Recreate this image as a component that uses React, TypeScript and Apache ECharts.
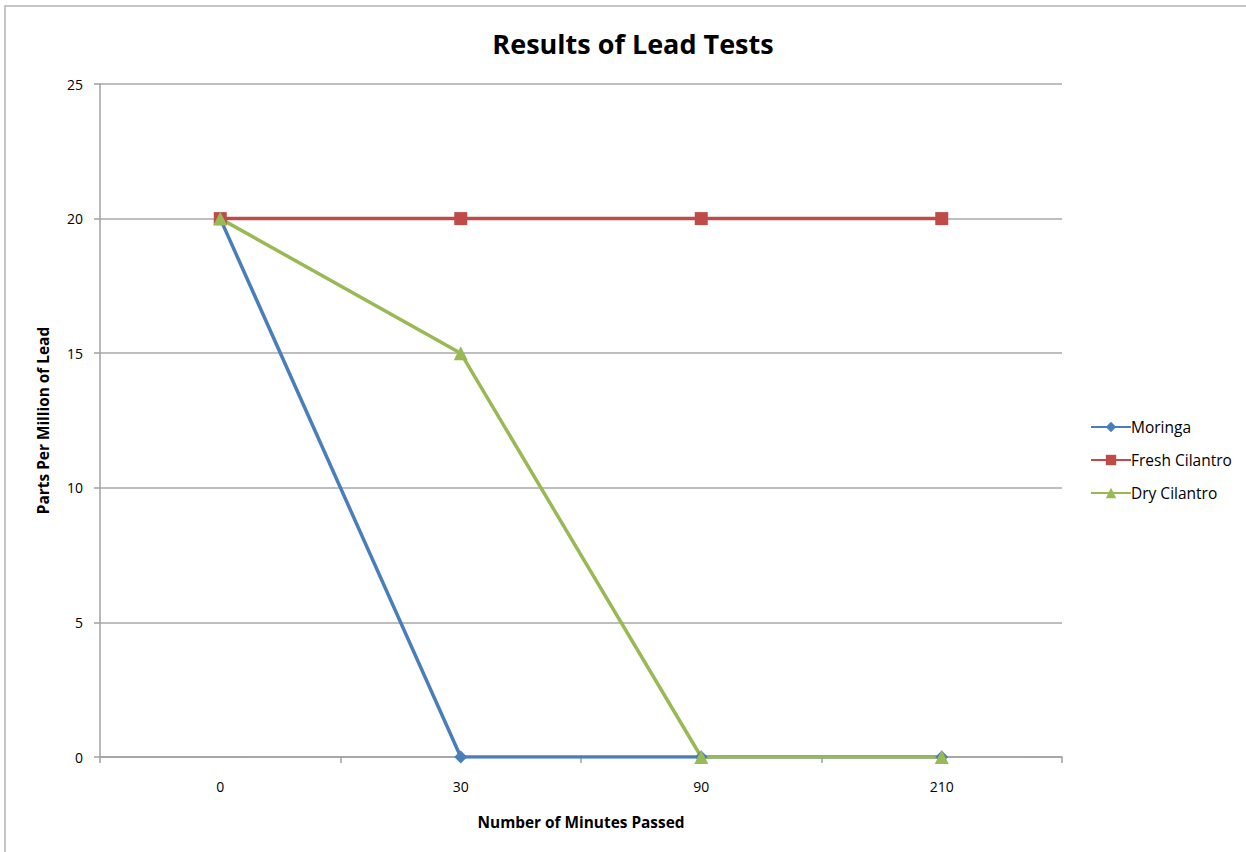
import React, { useEffect, useRef } from "react";
import * as echarts from "echarts";

const categories = ["0", "30", "90", "210"];
const moringa = [20, 0, 0, 0];
const freshCilantro = [20, 20, 20, 20];
const dryCilantro = [20, 15, 0, 0];

const FONT = "'Open Sans', Lato, sans-serif";

export default function App() {
  const ref = useRef<HTMLDivElement>(null);
  useEffect(() => {
    const chart = echarts.init(ref.current!, null, { renderer: "svg" });
    chart.setOption({
      animation: false,
      backgroundColor: "#ffffff",
      textStyle: { fontFamily: FONT },
      title: {
        text: "Results of Lead Tests",
        top: 25,
        left: 628,
        textAlign: "center",
        textStyle: { fontFamily: FONT, fontSize: 27, fontWeight: "bold", color: "#000" },
      },
      graphic: [
        {
          type: "rect",
          shape: { x: 5, y: 6, width: 1400, height: 1000 },
          style: { fill: "none", stroke: "#b4b4b4", lineWidth: 1.5 },
          silent: true,
        },
      ],
      legend: {
        orient: "vertical",
        left: 1085,
        top: 414,
        itemWidth: 40,
        itemHeight: 13,
        itemGap: 17,
        textStyle: { fontFamily: FONT, fontSize: 15.5, color: "#000", padding: [0, 0, 0, -5] },
        data: ["Moringa", "Fresh Cilantro", "Dry Cilantro"],
      },
      grid: { left: 100, right: 184, top: 84, bottom: 95 },
      xAxis: {
        type: "category",
        data: categories,
        boundaryGap: true,
        name: "Number of Minutes Passed",
        nameLocation: "middle",
        nameGap: 58,
        nameTextStyle: { fontFamily: FONT, fontSize: 15.4, fontWeight: "bold", color: "#000" },
        axisLine: { lineStyle: { color: "#a0a0a0", width: 1.5 } },
        axisTick: { show: true, length: 6, lineStyle: { color: "#a0a0a0", width: 1.5 } },
        axisLabel: { fontFamily: FONT, fontSize: 14, color: "#000", margin: 22 },
        splitLine: { show: false },
      },
      yAxis: {
        type: "value",
        min: 0,
        max: 25,
        interval: 5,
        name: "Parts Per Million of Lead",
        nameLocation: "middle",
        nameGap: 49,
        nameTextStyle: { fontFamily: FONT, fontSize: 15.4, fontWeight: "bold", color: "#000" },
        axisLine: { show: true, lineStyle: { color: "#a0a0a0", width: 1.5 } },
        axisTick: { show: true, length: 6, lineStyle: { color: "#a0a0a0", width: 1.5 } },
        axisLabel: { fontFamily: FONT, fontSize: 14, color: "#000", margin: 17 },
        splitLine: { show: true, lineStyle: { color: "#a8a8a8", width: 1.5 } },
      },
      series: [
        {
          name: "Moringa",
          type: "line",
          data: moringa,
          symbol: "diamond",
          symbolSize: 13,
          lineStyle: { color: "#4a7ebb", width: 3.5 },
          itemStyle: { color: "#4a7ebb" },
        },
        {
          name: "Fresh Cilantro",
          type: "line",
          data: freshCilantro,
          symbol: "rect",
          symbolSize: 13,
          lineStyle: { color: "#be4b48", width: 3.5 },
          itemStyle: { color: "#be4b48" },
        },
        {
          name: "Dry Cilantro",
          type: "line",
          data: dryCilantro,
          symbol: "triangle",
          symbolSize: 14,
          lineStyle: { color: "#98b954", width: 3.5 },
          itemStyle: { color: "#98b954" },
        },
      ],
    });
    return () => chart.dispose();
  }, []);
  return (
    <div
      ref={ref}
      style={{ position: "fixed", left: 0, top: 0, width: 1246, height: 852 }}
    />
  );
}
